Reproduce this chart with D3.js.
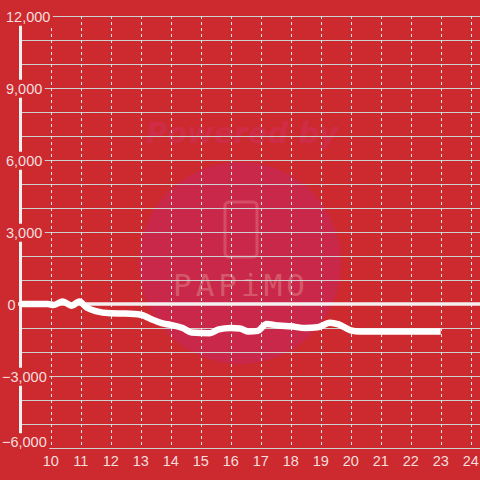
<!DOCTYPE html>
<html>
<head>
<meta charset="utf-8">
<script src="https://cdn.jsdelivr.net/npm/d3@7"></script>
<style>
  body { margin: 0; background: #cc2a2e; }
  svg { display: block; }
</style>
</head>
<body>
<div id="chart"></div>
<script>
// series: hour of day vs. value
const hours = [9.0, 9.9, 10.1, 10.4, 10.7, 10.95, 11.2, 11.5, 12.0, 12.5, 13.0, 13.3, 13.7, 14.0, 14.4, 14.7,
  15.3, 15.6, 16.0, 16.3, 16.6, 16.9, 17.2, 17.6, 18.0, 18.5, 18.9, 19.3, 19.6, 20.0, 20.3, 23.0];
const values = [0, 0, -40, 100, -70, 100, -150, -300, -390, -400, -450, -600, -800, -870, -1000, -1190,
  -1220, -1060, -1000, -1020, -1150, -1120, -830, -900, -930, -1000, -970, -780, -850, -1100, -1150, -1150];

const xTicks = [10, 11, 12, 13, 14, 15, 16, 17, 18, 19, 20, 21, 22, 23, 24];
const yTicks = [-6000, -3000, 0, 3000, 6000, 9000, 12000];
const yGrid = d3.range(-6000, 12001, 1000);

const width = 480, height = 480;
const bg = "#cc2a2e";
const textColor = "#f6dede";

const svg = d3.select("#chart")
  .append("svg")
  .attr("width", width)
  .attr("height", height);

svg.append("rect")
  .attr("width", width)
  .attr("height", height)
  .attr("fill", bg);

const x = d3.scaleLinear().domain([9, 24.31]).range([20.7, 480]);
const y = d3.scaleLinear().domain([-6000, 12000]).range([448, 16]);

// watermark
const wm = svg.append("g");
wm.append("circle")
  .attr("cx", 240).attr("cy", 263).attr("r", 101)
  .attr("fill", "#c9284a");
wm.append("text")
  .attr("x", 242).attr("y", 143)
  .attr("text-anchor", "middle")
  .attr("font-family", "DejaVu Sans, sans-serif")
  .attr("font-weight", "bold")
  .attr("font-style", "italic")
  .attr("font-size", 29)
  .attr("fill", "#cf2c47")
  .text("Powered by");
wm.append("rect")
  .attr("x", 225).attr("y", 202).attr("width", 32).attr("height", 55).attr("rx", 4)
  .attr("fill", "none")
  .attr("stroke", "#d44c66")
  .attr("stroke-width", 3);
wm.append("text")
  .attr("x", 241).attr("y", 296)
  .attr("text-anchor", "middle")
  .attr("font-family", "DejaVu Sans Mono, monospace")
  .attr("font-size", 31)
  .attr("letter-spacing", 4)
  .attr("fill", "#d5586a")
  .text("PAPiMO");

// horizontal grid
svg.append("g")
  .selectAll("line")
  .data(yGrid.filter(d => d !== 0))
  .join("line")
    .attr("x1", 20).attr("x2", width)
    .attr("y1", d => y(d) + 0.5).attr("y2", d => y(d) + 0.5)
    .attr("stroke", "#cfcfcf")
    .attr("stroke-width", 1.2);

// vertical dashed grid
svg.append("g")
  .selectAll("line")
  .data(xTicks)
  .join("line")
    .attr("x1", d => Math.round(x(d)) + 0.5).attr("x2", d => Math.round(x(d)) + 0.5)
    .attr("y1", y(12000)).attr("y2", y(-6000))
    .attr("stroke", "#e6e6e6")
    .attr("stroke-width", 1)
    .attr("stroke-dasharray", "3,3");

// zero line
svg.append("line")
  .attr("x1", 17).attr("x2", width)
  .attr("y1", y(0)).attr("y2", y(0))
  .attr("stroke", "#f4f0f0")
  .attr("stroke-width", 3.5);

// y axis line
svg.append("line")
  .attr("x1", 20.5).attr("x2", 20.5)
  .attr("y1", y(12000)).attr("y2", y(-6000))
  .attr("stroke", "#f4f0f0")
  .attr("stroke-width", 3);

// series line
const data = hours.map((h, i) => ({h: h, v: values[i]}));
const line = d3.line()
  .x(d => x(d.h))
  .y(d => y(d.v))
  .curve(d3.curveMonotoneX);

svg.append("path")
  .datum(data)
  .attr("d", line)
  .attr("fill", "none")
  .attr("stroke", "#ffffff")
  .attr("stroke-width", 6.5)
  .attr("stroke-linejoin", "round")
  .attr("stroke-linecap", "butt");

// y labels with background
const fmt = d3.format(",");
const yl = svg.append("g")
  .attr("font-family", "Liberation Sans, Arial, sans-serif")
  .attr("font-size", 14.5);
yl.selectAll("g")
  .data(yTicks)
  .join("g")
  .each(function(d) {
    const g = d3.select(this);
    const t = g.append("text")
      .attr("x", d < 0 ? 2 : (d === 0 ? 7.5 : 6))
      .attr("y", d === -6000 ? y(d) - 6 : y(d) + 0.5)
      .attr("dy", "0.36em")
      .attr("fill", textColor)
      .text(fmt(d));
    const b = t.node().getBBox();
    g.insert("rect", "text")
      .attr("x", b.x - 2.5).attr("y", b.y - 1)
      .attr("width", b.width + 5).attr("height", b.height + 2)
      .attr("fill", bg);
  });

// x labels
svg.append("g")
  .attr("font-family", "Liberation Sans, Arial, sans-serif")
  .attr("font-size", 14.5)
  .selectAll("text")
  .data(xTicks)
  .join("text")
    .attr("x", d => x(d))
    .attr("y", 461)
    .attr("dy", "0.36em")
    .attr("text-anchor", "middle")
    .attr("fill", textColor)
    .text(d => d);
</script>
</body>
</html>
